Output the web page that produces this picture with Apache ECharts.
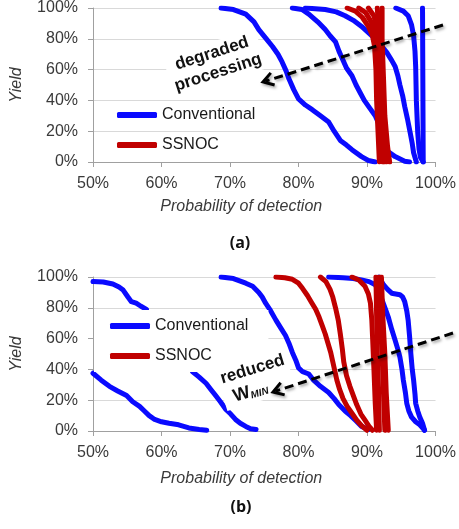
<!DOCTYPE html>
<html>
<head>
<meta charset="utf-8">
<script src="https://cdn.jsdelivr.net/npm/echarts@6/dist/echarts.min.js"></script>
<style>
html,body{margin:0;padding:0;background:#fff;}
#chart{width:459px;height:529px;}
</style>
</head>
<body>
<div id="chart"></div>
<script>
// ---------- data (x = probability of detection %, y = yield %) ----------
const xTicks = [50, 60, 70, 80, 90, 100];
const yTicks = [0, 20, 40, 60, 80, 100];
const seriesNames = ['Conventional', 'SSNOC'];

// Panel (a)
const convA1 = [[68.7,100],[70.5,99],[72.3,96],[73.5,91],[74.2,86],[75.3,80],[76.2,75],[77.0,70],[77.6,65],[78.2,59],[78.6,54],[79.3,47],[80,41],[81,37],[82,34],[83.2,30],[84.4,26],[85.2,20],[86.1,14],[87.0,11],[87.8,8],[89.2,3.5],[90.2,1],[91.2,0]];
const convA2 = [[79.1,100],[80.5,99],[81.5,96],[82.8,91],[83.9,86],[84.6,82],[85.4,78],[85.9,72],[86.3,68],[87.0,61],[87.8,56],[88.4,50],[89.0,45],[89.6,40],[90.4,35],[91.2,30],[91.6,26],[91.9,21],[92.2,16],[92.6,10],[93.0,7],[94.1,3.5],[95.5,0.5],[96.2,0]];
const convA3 = [[81,100],[83.9,99],[85.5,97.5],[86.8,95],[88,92],[89.2,88],[90.2,84],[91.2,80],[92,76],[92.9,71],[93.6,66],[94.1,62],[94.5,56],[94.8,50],[95.2,43],[95.5,36],[95.9,28],[96.3,19],[96.6,12],[96.8,6],[97.2,0]];
const convA4 = [[94.2,100],[95.3,98],[96,95],[96.5,89],[96.8,82],[97.0,72],[97.1,62],[97.2,40],[97.4,19],[97.6,8],[97.8,3],[98.2,0]];
const convA5 = [[98.2,0],[98.15,50],[98.1,100]];
const ssA1 = [[87.1,100],[88.3,98],[89.3,94],[90.2,88],[90.8,82],[91.1,75],[91.3,60],[91.4,40],[91.6,20],[91.8,0]];
const ssA2 = [[88.8,100],[89.8,97],[90.6,91],[91.1,84],[91.4,75],[91.6,55],[91.9,30],[92.1,10],[92.3,0]];
const ssA3 = [[90.2,100],[91.0,95],[91.5,86],[91.7,75],[91.9,50],[92.2,25],[92.5,0]];
const ssA4 = [[91.5,100],[91.7,85],[91.9,65],[92.1,40],[92.5,15],[92.8,0]];
const ssA5 = [[92.2,100],[92.2,80],[92.4,55],[92.6,30],[93.0,10],[93.3,0]];

// Panel (b)
const convB1 = [[50,97],[51.5,96.8],[52.9,95.5],[53.8,93.5],[54.4,91.5],[55.1,87],[55.6,84],[56.3,83],[57.0,81],[57.8,79]];
const convB2 = [[50,37.5],[51.2,33],[52.4,29],[53.6,26],[54.9,23],[55.8,19],[56.8,16],[57.5,13],[58.2,10],[59,7.5],[60,6],[61.1,5],[62.5,4],[64,2],[65.5,1],[66.6,0.5]];
const convB3 = [[64.5,38.6],[65.5,35],[66.5,31],[67.2,27],[67.9,23],[68.6,19],[69.4,14],[70.1,11],[70.8,7.5],[71.5,5],[72.3,3],[73,1.5],[73.8,1]];
const convB4 = [[68.7,100],[70.5,99],[72.3,96],[73.3,94],[74.2,90],[74.7,87],[75.2,83],[75.8,79],[76.7,72],[77.4,67],[78.1,62],[78.6,57],[79.1,51],[79.6,46],[80,41],[80.6,38.5],[81.5,37],[82.2,33],[83.2,29],[84.4,25],[85.2,21],[85.9,17],[86.8,13],[87.6,10],[88.3,7],[89.2,3],[90.2,1]];
const convB5 = [[84.4,100],[86.5,99.5],[88,99],[89.2,98],[90.3,97],[91.2,95],[91.7,91],[92.2,85],[92.7,79],[93.1,74],[93.6,66],[94.1,59],[94.5,53],[94.8,48],[95.1,40],[95.3,33],[95.6,25],[95.8,18],[96.1,13],[96.5,9],[97.1,6],[97.7,4],[98.1,2],[98.4,0.5]];
const convB6 = [[91.7,100],[92.0,98],[92.4,95],[93.0,92],[93.6,89.5],[94.2,89],[94.8,88.5],[95.2,87],[95.5,84],[95.8,78],[96,72],[96.2,62],[96.4,50],[96.6,40],[96.8,33],[97.0,24],[97.1,18],[97.4,13],[97.7,9],[98.1,5],[98.4,0.5]];
const ssB1 = [[76.7,100],[78,99.5],[79.1,98.5],[80,96],[80.6,92.5],[81.3,88],[81.9,83.5],[82.5,79],[83,74],[83.5,68],[83.9,63],[84.3,57],[84.7,51],[85,45],[85.3,39],[85.6,33],[86,27],[86.5,21],[87.1,16],[87.8,11.5],[88.5,7],[89.2,3.5],[90,0.5]];
const ssB2 = [[83.2,100],[84,97],[84.6,92],[85.0,87],[85.4,80],[85.8,72],[86.1,63],[86.4,53],[86.6,45],[87.0,36],[87.5,29],[88.0,23],[88.5,17],[89.1,11],[89.7,7],[90.3,3],[90.8,0.5]];
const ssB3 = [[87.8,100],[88.8,98],[89.7,94],[90.2,89],[90.5,83],[90.7,72],[90.8,62],[91.0,41],[91.2,18],[91.4,0.5]];
const ssB4 = [[91.3,100],[91.4,75],[91.5,50],[91.7,25],[91.8,0.5]];
const ssB5 = [[91.8,100],[91.9,75],[92.2,50],[92.4,25],[92.6,0.5]];
const ssB6 = [[92.1,100],[92.3,75],[92.6,50],[92.8,25],[93.1,0.5]];

const convA = [convA1, convA2, convA3, convA4, convA5];
const ssA = [ssA1, ssA2, ssA3, ssA4, ssA5];
const convB = [convB1, convB2, convB3, convB4, convB5, convB6];
const ssB = [ssB1, ssB2, ssB3, ssB4, ssB5, ssB6];

// ---------- styling ----------
const BLUE = '#0a0aff';
const RED = '#c00000';
const FONT = '"Liberation Sans", Arial, sans-serif';
const LBL = '#3a3a3a';
const LW = 5;

function mkSeries(name, data, color, idx) {
  return {
    name: name, type: 'line', xAxisIndex: idx, yAxisIndex: idx,
    data: data, showSymbol: false, symbol: 'none', smooth: false,
    lineStyle: {color: color, width: LW, cap: 'round', join: 'round'},
    itemStyle: {color: color}, color: color,
    emphasis: {disabled: true}, silent: true, z: 2
  };
}

const series = [];
convA.forEach(d => series.push(mkSeries(seriesNames[0], d, BLUE, 0)));
ssA.forEach(d => series.push(mkSeries(seriesNames[1], d, RED, 0)));
convB.forEach(d => series.push(mkSeries(seriesNames[0], d, BLUE, 1)));
ssB.forEach(d => series.push(mkSeries(seriesNames[1], d, RED, 1)));

function mkX(idx, gap) {
  return {
    type: 'value', gridIndex: idx, min: xTicks[0], max: xTicks[xTicks.length - 1], interval: 10,
    name: 'Probability of detection', nameLocation: 'middle', nameGap: gap,
    nameTextStyle: {fontFamily: FONT, fontStyle: 'italic', fontSize: 16, color: LBL, padding: [0, 46, 0, 0]},
    axisLine: {show: true, lineStyle: {color: '#a0a0a0', width: 1}},
    axisTick: {show: true, inside: false, length: 5, lineStyle: {color: '#a0a0a0'}},
    axisLabel: {formatter: '{value}%', fontFamily: FONT, fontSize: 16, color: LBL, margin: 14},
    splitLine: {show: false}
  };
}
function mkY(idx) {
  return {
    type: 'value', gridIndex: idx, min: yTicks[0], max: yTicks[yTicks.length - 1], interval: 20,
    name: 'Yield', nameLocation: 'middle', nameGap: 68, nameRotate: 90,
    nameTextStyle: {fontFamily: FONT, fontStyle: 'italic', fontSize: 16, color: LBL},
    axisLine: {show: true, lineStyle: {color: '#a0a0a0', width: 1}},
    axisTick: {show: true, inside: false, length: 5, lineStyle: {color: '#a0a0a0'}},
    axisLabel: {formatter: '{value}%', fontFamily: FONT, fontSize: 16, color: LBL, margin: 15},
    splitLine: {show: true, lineStyle: {color: '#d9d9d9', width: 1}}
  };
}

const legendCommon = {
  orient: 'vertical', selectedMode: false, icon: 'roundRect',
  itemWidth: 40, itemHeight: 6, itemGap: 14,
  textStyle: {fontFamily: FONT, fontSize: 16, color: '#1a1a1a', lineHeight: 16},
  data: seriesNames
};

// dashed arrow helper (pixel annotation)
function arrow(tail, tip) {
  const dx = tail[0] - tip[0], dy = tail[1] - tip[1];
  const len = Math.sqrt(dx * dx + dy * dy);
  const ux = dx / len, uy = dy / len;
  const L = 12, a = 32 * Math.PI / 180;
  const r = (s) => [tip[0] + L * (ux * Math.cos(s) - uy * Math.sin(s)), tip[1] + L * (ux * Math.sin(s) + uy * Math.cos(s))];
  const shadow = {shadowBlur: 3, shadowColor: 'rgba(0,0,0,0.35)', shadowOffsetX: 1.5, shadowOffsetY: 2};
  return [
    {type: 'line', z: 100, shape: {x1: tail[0], y1: tail[1], x2: tip[0] + ux * 3, y2: tip[1] + uy * 3},
     style: Object.assign({stroke: '#000', lineWidth: 3, lineDash: [9, 5]}, shadow)},
    {type: 'polyline', z: 100, shape: {points: [r(a), tip, r(-a)]},
     style: Object.assign({stroke: '#000', lineWidth: 3, fill: null, lineJoin: 'miter'}, shadow)}
  ];
}

const rot = 18 * Math.PI / 180;
const graphic = [].concat(
  arrow([443, 25], [263, 82]),
  arrow([453, 333], [273, 392]),
  [
    {type: 'text', z: 90, x: 215, y: 63, rotation: rot,
     style: {text: 'degraded\nprocessing', font: 'bold 17px ' + FONT, fill: '#111', align: 'center',
             verticalAlign: 'middle', lineHeight: 20, backgroundColor: '#fff', padding: [1, 3]}},
    {type: 'text', z: 90, x: 221, y: 390, rotation: 17 * Math.PI / 180,
     style: {text: 'reduced\n{w|W}{s|MIN}', font: 'bold 17px ' + FONT, fill: '#111', align: 'left',
             verticalAlign: 'middle', lineHeight: 21, backgroundColor: '#fff', padding: [1, 3],
             rich: {w: {font: 'bold 18px ' + FONT, fill: '#111', lineHeight: 21, padding: [0, 0, 0, 7]},
                    s: {font: 'bold italic 10px ' + FONT, fill: '#111', lineHeight: 21, padding: [8, 0, 0, 0]}}}},
    {type: 'text', x: 240, y: 243, style: {text: '(a)', font: 'bold 16px "Open Sans", sans-serif', fill: '#111', align: 'center', verticalAlign: 'middle'}},
    {type: 'text', x: 241, y: 507, style: {text: '(b)', font: 'bold 16px "Open Sans", sans-serif', fill: '#111', align: 'center', verticalAlign: 'middle'}}
  ]
);

const option = {
  animation: false,
  backgroundColor: '#fff',
  grid: [
    {left: 93, right: 22, top: 8, height: 154},
    {left: 93, right: 22, top: 277, height: 154}
  ],
  xAxis: [mkX(0, 37), mkX(1, 40)],
  yAxis: [mkY(0), mkY(1)],
  legend: [
    Object.assign({}, legendCommon, {left: 117, top: 107, padding: 0}),
    Object.assign({}, legendCommon, {left: 94, top: 310, padding: [8, 20, 8, 16], backgroundColor: '#fff', borderWidth: 0})
  ],
  series: series,
  graphic: graphic
};

const chart = echarts.init(document.getElementById('chart'), null, {renderer: 'canvas'});
chart.setOption(option);
</script>
</body>
</html>
